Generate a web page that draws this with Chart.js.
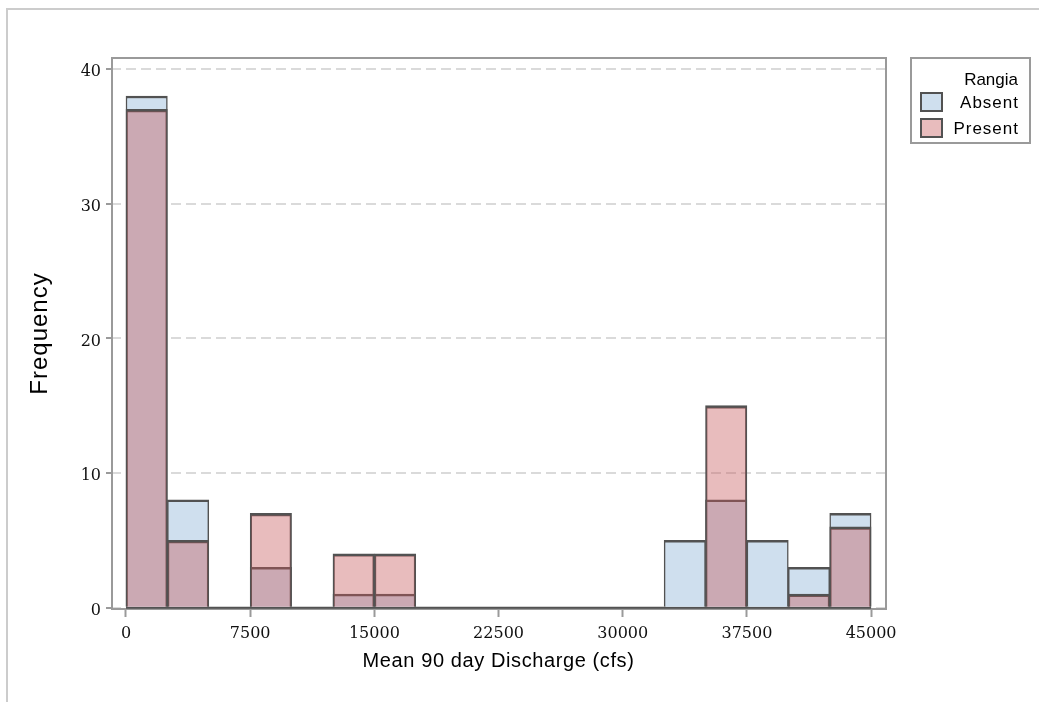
<!DOCTYPE html>
<html>
<head>
<meta charset="utf-8">
<script src="https://cdn.jsdelivr.net/npm/chart.js@4"></script>
<style>
  html, body { margin: 0; padding: 0; background: #fff; }
  #wrap { width: 1039px; height: 702px; }
</style>
</head>
<body>
<div id="wrap"><canvas id="chart" width="1039" height="702"></canvas></div>
<script>
// histogram bins, width 2500 cfs
const binStarts = [0, 2500, 5000, 7500, 10000, 12500, 15000, 17500, 20000,
  22500, 25000, 27500, 30000, 32500, 35000, 37500, 40000, 42500];
const binWidth = 2500;
const absentCounts  = [38, 8, 0, 3, 0, 1, 1, 0, 0, 0, 0, 0, 0, 5, 8, 5, 3, 7];
const presentCounts = [37, 5, 0, 7, 0, 4, 4, 0, 0, 0, 0, 0, 0, 0, 15, 0, 1, 6];
const xTicks = [0, 7500, 15000, 22500, 30000, 37500, 45000];
const yTicks = [0, 10, 20, 30, 40];
const groups = ['Absent', 'Present'];
const legendTitle = 'Rangia';
const xTitle = 'Mean 90 day Discharge (cfs)';
const yTitle = 'Frequency';

const FILL = { 'Absent': '#cfdfee', 'Present': 'rgba(198,88,90,0.4)' };
const SWATCH = { 'Absent': '#cfdfee', 'Present': '#e8bcbd' };
const EDGE = '#525252';
const FRAME = '#9a9a9a';
const SANS = '"Liberation Sans", Arial, sans-serif';

const centers = binStarts.map(s => s + binWidth / 2);
const toPts = arr => arr.map((v, i) => ({ x: centers[i], y: v }));
const lastEdge = binStarts[binStarts.length - 1] + binWidth;

// outer frame, plot frame, axis titles and the legend box
const decor = {
  id: 'decor',
  beforeDraw(chart) {
    const c = chart.ctx;
    c.save();
    c.strokeStyle = '#cccccc';
    c.lineWidth = 2;
    c.beginPath();
    c.moveTo(7, 702); c.lineTo(7, 9); c.lineTo(1039, 9);
    c.stroke();
    c.restore();
  },
  beforeDatasetsDraw(chart) {
    const a = chart.chartArea, c = chart.ctx;
    c.save();
    c.strokeStyle = FRAME;
    c.lineWidth = 2;
    c.strokeRect(a.left + 1, a.top, a.right - a.left - 1, a.bottom - a.top);
    c.restore();
  },
  afterDraw(chart) {
    const a = chart.chartArea, c = chart.ctx;
    c.save();
    // axis titles
    c.fillStyle = '#000';
    c.font = '20px ' + SANS;
    c.textAlign = 'center';
    c.textBaseline = 'middle';
    c.letterSpacing = '0.6px';
    c.fillText(xTitle, (a.left + a.right) / 2, 661);
    c.save();
    c.translate(40, (a.top + a.bottom) / 2);
    c.rotate(-Math.PI / 2);
    c.font = '24px ' + SANS;
    c.letterSpacing = '1px';
    c.fillText(yTitle, 0, 0);
    c.restore();

    // legend
    const bx = 910, by = 58, bw = 120, bh = 85;
    c.strokeStyle = FRAME;
    c.lineWidth = 2;
    c.strokeRect(bx + 1, by, bw - 1, bh);
    c.fillStyle = '#000';
    c.font = '17px ' + SANS;
    c.textAlign = 'right';
    c.letterSpacing = '0px';
    c.fillText(legendTitle, 1018, 80);
    c.letterSpacing = '1px';
    groups.forEach((g, i) => {
      const y = 93 + i * 26;
      c.fillStyle = SWATCH[g];
      c.fillRect(921, y, 21, 18);
      c.strokeStyle = EDGE;
      c.lineWidth = 2;
      c.strokeRect(921, y, 21, 18);
      c.fillStyle = '#000';
      c.fillText(g, 1019, y + 10);
    });
    c.restore();
  }
};

new Chart(document.getElementById('chart'), {
  data: {
    datasets: [
      {
        type: 'bar', label: groups[1], data: toPts(presentCounts), order: 1,
        backgroundColor: FILL['Present'], borderColor: EDGE,
        borderWidth: { top: 2.5, left: 1.5, right: 1.5, bottom: 0 }, borderSkipped: false,
        grouped: false, barPercentage: 1, categoryPercentage: 1
      },
      {
        type: 'bar', label: groups[0], data: toPts(absentCounts), order: 2,
        backgroundColor: FILL['Absent'], borderColor: EDGE,
        borderWidth: { top: 2.5, left: 1.5, right: 1.5, bottom: 0 }, borderSkipped: false,
        grouped: false, barPercentage: 1, categoryPercentage: 1
      },
      {
        // zero-height bins still show their outline along the base
        type: 'line', label: 'base', order: 3,
        data: [{ x: binStarts[0], y: 0 }, { x: lastEdge, y: 0 }],
        borderColor: EDGE, borderWidth: 2, pointRadius: 0
      }
    ]
  },
  options: {
    responsive: false,
    animation: false,
    layout: { padding: { top: 58, right: 153, left: 0, bottom: 0 } },
    plugins: { legend: { display: false }, tooltip: { enabled: false } },
    scales: {
      x: {
        type: 'linear', min: -905, max: 45900, offset: false,
        afterBuildTicks: s => { s.ticks = xTicks.map(v => ({ value: v })); },
        afterFit: s => { s.height = 93; },
        grid: { offset: false, drawOnChartArea: false, drawTicks: true, tickLength: 8,
                tickColor: FRAME, tickWidth: 2 },
        border: { display: false },
        ticks: { color: '#111', padding: 7, maxRotation: 0,
                 font: { family: '"DejaVu Serif", serif', size: 16 },
                 callback: v => String(v) },
        title: { display: false }
      },
      y: {
        type: 'linear', min: -0.1, max: 40.82,
        afterBuildTicks: s => { s.ticks = yTicks.map(v => ({ value: v })); },
        afterFit: s => { s.width = 111; },
        grid: { color: '#dadada', lineWidth: 2, drawTicks: true, tickLength: 5,
                tickColor: FRAME, tickWidth: 2 },
        border: { display: false, dash: [10, 5] },
        ticks: { color: '#111', padding: 5, labelOffset: 3,
                 font: { family: '"DejaVu Serif", serif', size: 16 },
                 callback: v => String(v) },
        title: { display: false }
      }
    }
  },
  plugins: [decor]
});
</script>
</body>
</html>
